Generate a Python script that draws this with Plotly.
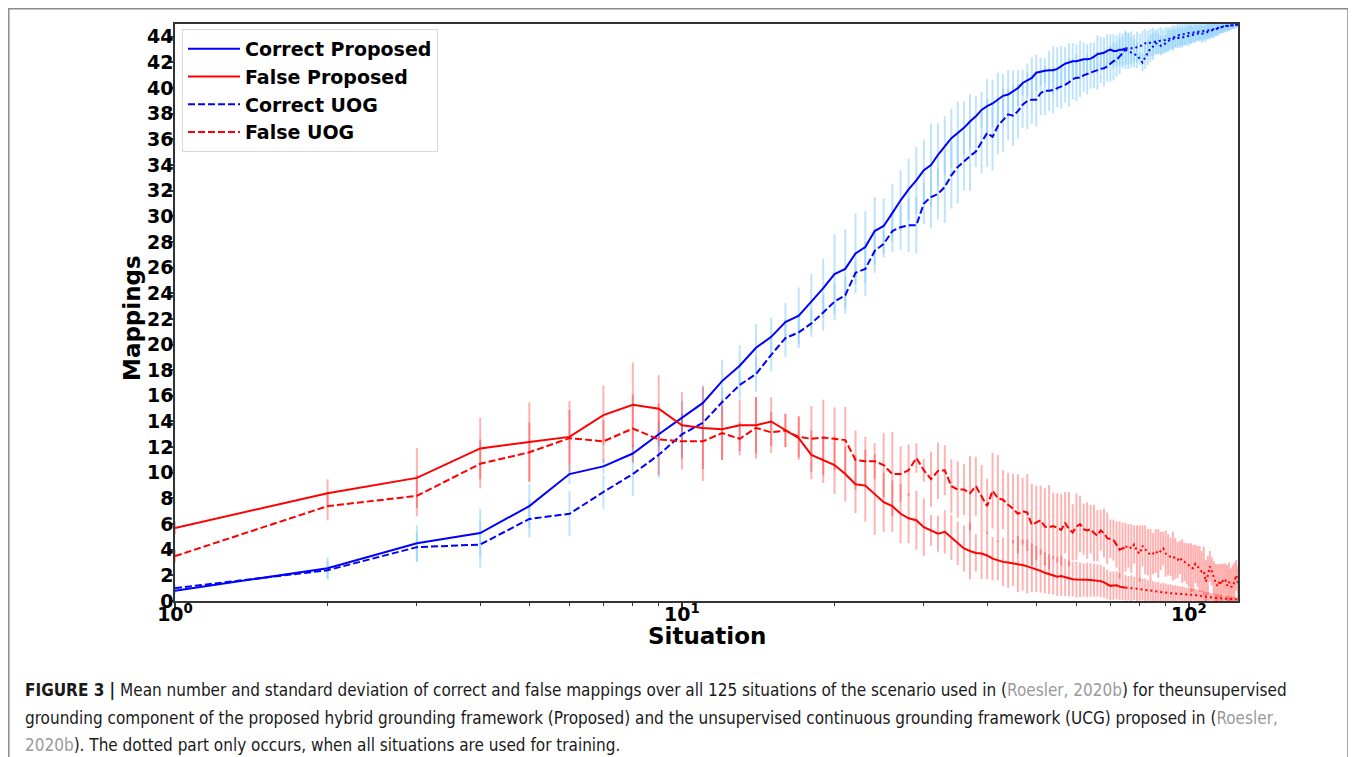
import math
import plotly.graph_objects as go

situations = list(range(1, 126))
split_at = 75  # solid/dashed part: situations 1..75, dotted part: 75..125

correct_proposed = [
    0.8, 2.55, 4.5, 5.3, 7.4, 9.9, 10.5, 11.5, 13.0, 14.3,
    15.45, 17.15, 18.35, 19.75, 20.6, 21.75, 22.25, 23.35, 24.4, 25.5,
    25.9, 27.1, 27.6, 28.85, 29.25, 30.25, 31.25, 32.1, 32.8, 33.6,
    34.0, 34.8, 35.5, 36.1, 36.5, 36.9, 37.4, 37.8, 38.3, 38.6,
    38.8, 39.1, 39.4, 39.5, 39.75, 40.0, 40.4, 40.6, 40.8, 41.2,
    41.3, 41.35, 41.4, 41.4, 41.5, 41.7, 41.9, 42.0, 42.1, 42.1,
    42.2, 42.25, 42.25, 42.3, 42.45, 42.65, 42.7, 42.75, 42.9, 43.0,
    42.9, 42.9, 43.0, 43.0, 43.1, 43.1, 43.15, 43.1, 43.2, 43.25,
    43.35, 43.5, 43.45, 43.55, 43.6, 43.6, 43.65, 43.7, 43.7, 43.75,
    43.8, 43.85, 43.9, 44.0, 44.1, 44.15, 44.2, 44.2, 44.25, 44.3,
    44.3, 44.35, 44.35, 44.4, 44.4, 44.45, 44.45, 44.5, 44.5, 44.5,
    44.55, 44.6, 44.65, 44.7, 44.7, 44.75, 44.8, 44.8, 44.85, 44.85,
    44.9, 44.9, 44.9, 44.95, 44.95]

correct_uog = [
    1.0, 2.4, 4.2, 4.4, 6.4, 6.8, 8.5, 9.9, 11.4, 13.0,
    13.9, 15.5, 16.85, 17.7, 19.2, 20.5, 20.95, 21.65, 22.5, 23.35,
    23.85, 25.6, 25.9, 27.3, 27.85, 28.85, 29.15, 29.3, 29.3, 31.0,
    31.5, 31.75, 32.3, 33.2, 33.85, 34.3, 34.7, 35.05, 35.75, 36.5,
    36.2, 37.05, 37.5, 37.95, 37.85, 38.2, 38.7, 39.0, 39.1, 39.1,
    39.6, 39.8, 39.8, 39.85, 40.0, 40.1, 40.25, 40.45, 40.7, 40.8,
    40.8, 41.0, 41.1, 41.15, 41.3, 41.4, 41.5, 41.55, 41.7, 41.9,
    42.1, 42.2, 42.5, 42.75, 43.0, 42.9, 42.8, 42.7, 42.55, 42.3,
    42.0, 42.4, 42.8, 43.1, 43.25, 43.5, 43.45, 43.3, 43.35, 43.5,
    43.7, 43.8, 43.85, 43.9, 43.9, 43.9, 43.95, 44.0, 44.05, 44.1,
    44.15, 44.15, 44.25, 44.3, 44.3, 44.25, 44.25, 44.3, 44.4, 44.45,
    44.5, 44.5, 44.55, 44.6, 44.7, 44.75, 44.8, 44.85, 44.85, 44.9,
    44.9, 44.9, 44.95, 44.95, 44.95]

false_proposed = [
    5.7, 8.4, 9.6, 11.9, 12.4, 12.8, 14.5, 15.3, 15.0, 13.7,
    13.5, 13.4, 13.7, 13.7, 14.0, 13.3, 12.7, 11.4, 11.0, 10.6,
    9.9, 9.1, 9.0, 8.3, 7.7, 7.4, 6.8, 6.45, 6.3, 5.75,
    5.5, 5.25, 5.4, 4.95, 4.5, 4.1, 3.9, 3.75, 3.7, 3.55,
    3.3, 3.15, 3.05, 3.0, 2.95, 2.88, 2.8, 2.7, 2.6, 2.5,
    2.35, 2.2, 2.1, 2.0, 1.9, 1.95, 1.85, 1.75, 1.7, 1.68,
    1.65, 1.65, 1.65, 1.64, 1.62, 1.6, 1.55, 1.45, 1.3, 1.18,
    1.2, 1.22, 1.12, 1.08, 1.04, 1.0, 1.0, 0.98, 0.95, 0.92,
    0.88, 0.85, 0.82, 0.78, 0.74, 0.71, 0.69, 0.67, 0.66, 0.65,
    0.63, 0.61, 0.6, 0.59, 0.58, 0.57, 0.55, 0.53, 0.51, 0.5,
    0.49, 0.48, 0.46, 0.43, 0.4, 0.37, 0.34, 0.32, 0.3, 0.29,
    0.27, 0.25, 0.23, 0.22, 0.21, 0.2, 0.19, 0.18, 0.17, 0.16,
    0.15, 0.14, 0.13, 0.12, 0.12]

false_uog = [
    3.5, 7.4, 8.2, 10.7, 11.6, 12.7, 12.45, 13.45, 12.6, 12.45,
    12.45, 13.1, 12.65, 13.5, 13.15, 13.3, 12.8, 12.65, 12.75, 12.65,
    12.55, 11.0, 10.9, 10.9, 10.6, 9.9, 9.9, 10.2, 11.15, 10.2,
    9.5, 10.15, 10.2, 8.95, 8.7, 8.7, 8.4, 8.95, 8.15, 7.4,
    8.6, 8.0, 7.9, 7.5, 7.2, 6.8, 7.0, 6.9, 5.95, 6.1,
    6.3, 5.8, 5.75, 5.85, 5.7, 5.55, 6.1, 5.6, 5.35, 5.8,
    6.0, 5.6, 5.5, 5.6, 5.3, 5.1, 5.5, 5.3, 4.9, 4.85,
    4.75, 4.4, 4.0, 4.1, 4.2, 4.3, 4.1, 4.4, 3.9, 3.7,
    4.3, 4.0, 3.8, 3.6, 3.7, 3.9, 3.7, 3.9, 4.1, 3.7,
    3.6, 3.45, 3.5, 3.3, 3.2, 3.4, 3.1, 3.05, 2.9, 2.8,
    2.6, 2.55, 2.9, 2.7, 2.5, 2.3, 2.35, 1.5, 2.0, 2.7,
    2.3, 1.8, 1.4, 1.15, 1.6, 1.3, 1.7, 1.65, 1.2, 1.5,
    1.14, 1.1, 1.6, 2.0, 1.4]

std_correct_proposed = [
    0.3, 0.85, 1.4, 1.9, 1.75, 0.8, 0.6, 0.7, 1.0, 1.3,
    1.4, 1.65, 1.6, 1.85, 1.5, 1.5, 2.2, 2.15, 2.3, 3.1,
    3.1, 3.1, 2.8, 2.65, 2.15, 2.25, 2.35, 2.4, 2.6, 2.4,
    3.25, 2.45, 2.3, 2.3, 2.45, 2.05, 2.1, 1.6, 1.4, 2.1,
    1.85, 2.1, 1.7, 1.9, 1.6, 1.4, 1.0, 1.3, 1.6, 1.4,
    1.1, 1.0, 1.5, 1.9, 1.7, 1.6, 1.3, 1.5, 1.4, 1.3,
    1.5, 1.3, 1.2, 1.25, 1.1, 1.45, 1.3, 1.2, 1.3, 1.2,
    1.3, 1.2, 1.3, 1.25, 1.3, 1.2, 1.3, 1.1, 1.2, 1.0,
    1.1, 1.1, 1.0, 1.05, 1.1, 0.95, 1.0, 1.05, 0.9, 1.0,
    0.95, 0.9, 1.0, 0.85, 0.9, 0.8, 0.9, 0.85, 0.8, 0.75,
    0.8, 0.7, 0.75, 0.7, 0.65, 0.7, 0.6, 0.65, 0.6, 0.55,
    0.6, 0.5, 0.55, 0.5, 0.45, 0.5, 0.4, 0.45, 0.35, 0.4,
    0.3, 0.3, 0.25, 0.2, 0.15]

std_correct_uog = [
    0.3, 0.7, 1.15, 1.8, 1.45, 1.75, 1.3, 1.7, 1.8, 1.8,
    1.5, 1.2, 1.1, 1.4, 1.3, 1.45, 1.2, 1.05, 1.4, 1.45,
    1.45, 0.9, 2.1, 1.7, 1.05, 1.6, 1.75, 2.1, 2.2, 1.6,
    2.4, 2.0, 2.8, 2.6, 2.85, 2.3, 2.7, 1.2, 2.4, 2.65,
    2.6, 2.2, 2.5, 2.0, 2.35, 2.1, 1.8, 2.2, 1.9, 2.1,
    1.7, 1.9, 1.6, 1.8, 1.5, 1.7, 1.4, 1.9, 1.6, 1.8,
    1.5, 1.3, 1.6, 1.2, 1.3, 1.5, 1.1, 1.4, 1.2, 1.4,
    1.5, 1.3, 1.4, 1.2, 1.5, 1.4, 1.2, 1.1, 1.0, 0.5,
    0.7, 0.9, 1.0, 1.05, 1.05, 0.9, 0.8, 0.75, 0.7, 0.7,
    0.8, 0.75, 0.8, 0.7, 0.8, 0.75, 0.8, 0.7, 0.75, 0.8,
    0.7, 0.65, 0.7, 0.6, 0.65, 0.7, 0.6, 0.65, 0.6, 0.65,
    0.55, 0.6, 0.5, 0.55, 0.5, 0.45, 0.5, 0.4, 0.45, 0.4,
    0.35, 0.3, 0.3, 0.25, 0.2]

std_false_proposed = [
    0.5, 1.1, 2.35, 2.4, 3.1, 2.1, 2.3, 3.3, 2.6, 2.6,
    3.2, 2.4, 2.0, 2.2, 1.9, 1.3, 1.7, 1.9, 1.8, 2.25,
    2.15, 2.25, 2.8, 3.15, 2.3, 2.0, 2.3, 1.95, 2.3, 2.25,
    1.2, 1.4, 1.7, 1.75, 1.7, 1.8, 2.2, 1.45, 2.0, 1.85,
    1.7, 1.55, 1.9, 2.0, 1.8, 2.2, 2.0, 2.1, 1.9, 1.8,
    1.7, 1.6, 1.55, 1.5, 1.5, 1.55, 1.45, 1.4, 1.35, 1.4,
    1.35, 1.3, 1.35, 1.3, 1.3, 1.25, 1.25, 1.2, 1.15, 1.1,
    1.1, 1.1, 1.05, 1.0, 1.0, 0.95, 1.0, 0.9, 0.95, 0.9,
    0.85, 0.9, 0.8, 0.85, 0.8, 0.75, 0.8, 0.7, 0.75, 0.7,
    0.65, 0.7, 0.6, 0.65, 0.6, 0.55, 0.6, 0.55, 0.5, 0.55,
    0.5, 0.45, 0.5, 0.45, 0.4, 0.45, 0.4, 0.35, 0.4, 0.35,
    0.3, 0.35, 0.3, 0.3, 0.25, 0.3, 0.25, 0.2, 0.25, 0.2,
    0.2, 0.15, 0.2, 0.15, 0.15]

std_false_uog = [
    0.5, 1.1, 1.6, 1.9, 2.3, 2.9, 1.65, 2.65, 2.8, 2.2,
    3.1, 2.1, 1.3, 2.4, 1.6, 1.3, 1.6, 2.55, 2.95, 2.45,
    2.6, 2.3, 1.9, 1.4, 2.5, 3.3, 2.15, 2.0, 1.15, 0.9,
    2.15, 2.2, 1.95, 2.1, 2.2, 2.0, 2.9, 2.3, 2.45, 2.15,
    2.95, 3.4, 2.3, 2.5, 2.7, 3.1, 2.6, 3.0, 3.2, 2.9,
    2.7, 3.0, 3.3, 2.6, 2.7, 2.8, 2.4, 2.9, 2.2, 2.6,
    2.2, 2.0, 2.2, 1.9, 2.2, 2.0, 1.6, 1.9, 2.0, 1.5,
    1.6, 1.8, 2.2, 2.0, 1.9, 1.7, 1.9, 1.5, 2.0, 2.2,
    1.6, 1.9, 1.8, 2.0, 1.6, 1.7, 1.9, 1.5, 1.3, 1.8,
    1.6, 1.5, 1.9, 1.6, 1.4, 1.3, 1.7, 1.5, 1.6, 1.7,
    1.9, 1.8, 1.5, 1.6, 1.8, 1.6, 1.9, 1.7, 1.5, 1.2,
    1.1, 1.3, 1.5, 1.7, 1.3, 1.6, 1.2, 1.3, 1.6, 1.5,
    1.4, 1.7, 1.4, 1.2, 1.3]

y_ticks = list(range(0, 45, 2))
x_major_ticks = [1, 10, 100]
x_major_labels = ["10<sup>0</sup>", "10<sup>1</sup>", "10<sup>2</sup>"]
x_minor_ticks = [2, 3, 4, 5, 6, 7, 8, 9, 20, 30, 40, 50, 60, 70, 80, 90]

series = [
    ("Correct Proposed", correct_proposed, std_correct_proposed, "#0000ff", "solid", "rgba(135,206,250,0.55)"),
    ("False Proposed", false_proposed, std_false_proposed, "#ff0000", "solid", "rgba(255,0,0,0.30)"),
    ("Correct UOG", correct_uog, std_correct_uog, "#0000ff", "7px,3px", "rgba(135,206,250,0.55)"),
    ("False UOG", false_uog, std_false_uog, "#ff0000", "7px,3px", "rgba(255,0,0,0.30)"),
]
for _, m, s, *_r in series:
    assert len(m) == 125 and len(s) == 125

fig = go.Figure()

# error bars first (beneath all lines)
for name, mean, std, color, dash, barcolor in series:
    fig.add_trace(go.Scatter(
        x=situations, y=mean, mode="markers",
        marker=dict(size=1, color="rgba(0,0,0,0)"),
        error_y=dict(type="data", array=std, visible=True, color=barcolor, thickness=2, width=0),
        showlegend=False, hoverinfo="skip"))

# lines: first part (solid / dashed), later part dotted
for name, mean, std, color, dash, barcolor in series:
    fig.add_trace(go.Scatter(
        x=situations[:split_at], y=mean[:split_at], mode="lines", name=name,
        line=dict(color=color, width=2, dash=dash)))
for name, mean, std, color, dash, barcolor in series:
    fig.add_trace(go.Scatter(
        x=situations[split_at - 1:], y=mean[split_at - 1:], mode="lines", name=name,
        line=dict(color=color, width=2, dash="2px,3px"), showlegend=False))

# geometry: the page has an 8px body margin, so screen px = figure px + 8
OFF = 8
W, H = 1356 - OFF, 757 - OFF
L, R, T, B = 175 - OFF, 1238 - OFF, 24 - OFF, 601 - OFF
pw, ph = R - L, B - T
def px_x(screen_x):
    return (screen_x - OFF - L) / pw
def px_y(screen_y):
    return (B - (screen_y - OFF)) / ph

tickfont = dict(family="DejaVu Sans", size=19, color="black", weight="bold")
titlefont = dict(family="DejaVu Sans", size=23, color="black", weight="bold")
fig.update_layout(
    width=W, height=H,
    margin=dict(l=L, r=W - R, t=T, b=H - B),
    paper_bgcolor="white", plot_bgcolor="white",
    showlegend=True,
    legend=dict(x=px_x(182), y=px_y(29), xanchor="left", yanchor="top",
                font=dict(family="DejaVu Sans", size=19, color="black", weight="bold"),
                bgcolor="rgba(255,255,255,0.8)", bordercolor="#d8d8d8", borderwidth=1,
                itemwidth=52, tracegroupgap=0),
    xaxis=dict(type="log", range=[0, math.log10(125)],
               tickmode="array", tickvals=x_major_ticks, ticktext=x_major_labels,
               ticks="outside", ticklen=5, tickwidth=1.5, tickcolor="#333",
               minor=dict(tickvals=x_minor_ticks, ticks="outside", ticklen=3, tickwidth=1, tickcolor="#333"),
               showline=True, linecolor="#333", linewidth=1.5, mirror=True,
               showgrid=False, zeroline=False, tickfont=tickfont, ticklabelstandoff=-10,
               automargin=False),
    yaxis=dict(range=[0, 45], tickmode="array", tickvals=y_ticks,
               ticks="outside", ticklen=4, tickwidth=1.5, tickcolor="#333",
               showline=True, linecolor="#333", linewidth=1.5, mirror=True,
               showgrid=False, zeroline=False, tickfont=tickfont, ticklabelstandoff=-8,
               automargin=False),
)

# axis titles
fig.add_annotation(text="Situation", xref="paper", yref="paper", x=0.5, y=px_y(636),
                   xanchor="center", yanchor="middle", showarrow=False, font=titlefont)
fig.add_annotation(text="Mappings", xref="paper", yref="paper", x=px_x(132), y=px_y(318),
                   xanchor="center", yanchor="middle", showarrow=False, textangle=-90, font=titlefont)

# outer figure frame
fig.add_shape(type="rect", xref="paper", yref="paper",
              x0=px_x(8.8), x1=px_x(1348), y0=px_y(8.8), y1=px_y(780),
              line=dict(color="#8a8a8a", width=1.5), fillcolor="rgba(0,0,0,0)", layer="below")

gray = "#9a9a9a"
cap_font = dict(family="Liberation Sans Narrow, DejaVu Sans Condensed, Liberation Sans", size=17, color="#1a1a1a")
caption_lines = [
    "<b>FIGURE 3 |</b> Mean number and standard deviation of correct and false mappings over all 125 situations of the scenario used in "
    "(<span style='color:%s'>Roesler, 2020b</span>) for theunsupervised" % gray,
    "grounding component of the proposed hybrid grounding framework (Proposed) and the unsupervised continuous grounding framework (UCG) proposed in "
    "(<span style='color:%s'>Roesler,</span>" % gray,
    "<span style='color:%s'>2020b</span>). The dotted part only occurs, when all situations are used for training." % gray,
]
for text, yc in zip(caption_lines, [690, 718, 745]):
    fig.add_annotation(text=text, xref="paper", yref="paper", x=px_x(23), y=px_y(yc),
                       xanchor="left", yanchor="middle", showarrow=False, align="left", font=cap_font)

fig.write_html("out.html")
